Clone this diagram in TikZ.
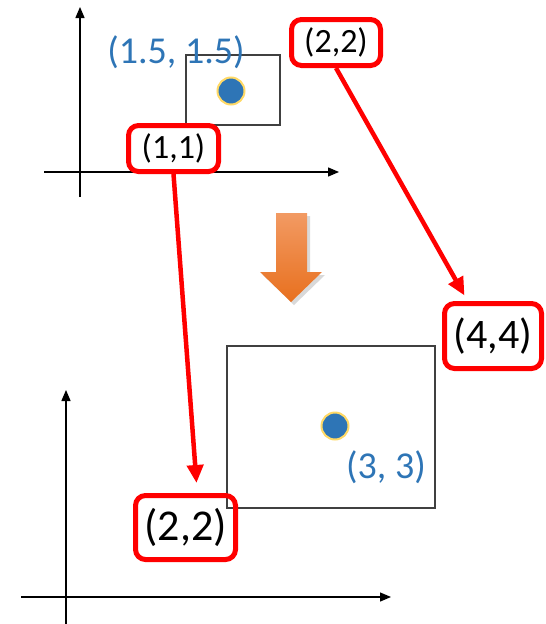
\documentclass[tikz,border=0pt]{standalone}
\usepackage{fontspec}
\setmainfont{Carlito}
\usetikzlibrary{arrows.meta}
\definecolor{ptblue}{HTML}{2E75B6}
\definecolor{ptyellow}{HTML}{FFD966}
\definecolor{orangeA}{HTML}{F29A63}
\definecolor{orangeB}{HTML}{E8701E}
\begin{document}
\begin{tikzpicture}[x=1pt,y=-1pt,
  axis/.style={line width=1.3pt, -{Triangle[length=11pt,width=9pt]}},
  frame/.style={draw=black!75, line width=1.2pt},
  redbox/.style={draw=red, line width=5pt, rounded corners=10pt, inner sep=0pt, text=black},
  conn/.style={red, line width=4.5pt, -{Triangle[length=18pt,width=16pt]}},
  bluelabel/.style={text=ptblue, font=\fontsize{38}{40}\selectfont, inner sep=0pt, anchor=base},
  ptdot/.style={circle, fill=ptblue, draw=ptyellow, line width=2pt, minimum size=27pt, inner sep=0pt},
]
\useasboundingbox (0,0) rectangle (546,624);
% top axes
\coordinate (tv0) at (80,197);
\coordinate (tv1) at (80,7);
\coordinate (th0) at (44,172);
\coordinate (th1) at (339,172);
\draw[axis] (tv0) -- (tv1);
\draw[axis] (th0) -- (th1);
% bottom axes
\coordinate (bv0) at (66,624);
\coordinate (bv1) at (66,390);
\coordinate (bh0) at (21,597);
\coordinate (bh1) at (391,597);
\draw[axis] (bv0) -- (bv1);
\draw[axis] (bh0) -- (bh1);
% rectangles
\draw[frame] (186,55) rectangle (280,125);
\draw[frame] (227,346) rectangle (435,508);
% dots
\node[ptdot] (d1) at (231,91) {};
\node[ptdot] (d2) at (335,426) {};
% blue labels
\node[bluelabel] (l15) at (176,63) {(1.5, 1.5)};
\node[bluelabel] (l33) at (386,478) {(3, 3)};
% orange arrow
\begin{scope}[shift={(3,3)}]
\fill[black,opacity=0.15] (276,213) -- (307,213) -- (307,272) -- (322,272) -- (291,302) -- (260,272) -- (276,272) -- cycle;
\end{scope}
\shade[top color=orangeA, bottom color=orangeB] (276,213) -- (307,213) -- (307,272) -- (322,272) -- (291,302) -- (260,272) -- (276,272) -- cycle;
% red boxes
\node[redbox, minimum width=89pt, minimum height=46pt, font=\fontsize{34}{36}\selectfont] (t22) at (336,42.5) {(2,2)};
\node[redbox, minimum width=90pt, minimum height=46pt, font=\fontsize{34}{36}\selectfont] (t11) at (173.5,148.5) {(1,1)};
\node[redbox, minimum width=97pt, minimum height=65pt, font=\fontsize{42}{44}\selectfont] (f44) at (493,336) {(4,4)};
\node[redbox, minimum width=100pt, minimum height=64pt, font=\fontsize{44}{46}\selectfont] (l22) at (185.5,527.5) {(2,2)};
% connectors
\draw[conn] (t22.south) -- ([xshift=22.5pt,yshift=5.5pt]f44.north west);
\draw[conn] (t11.south) -- ([xshift=11pt,yshift=10pt]l22.north);
\end{tikzpicture}
\end{document}
